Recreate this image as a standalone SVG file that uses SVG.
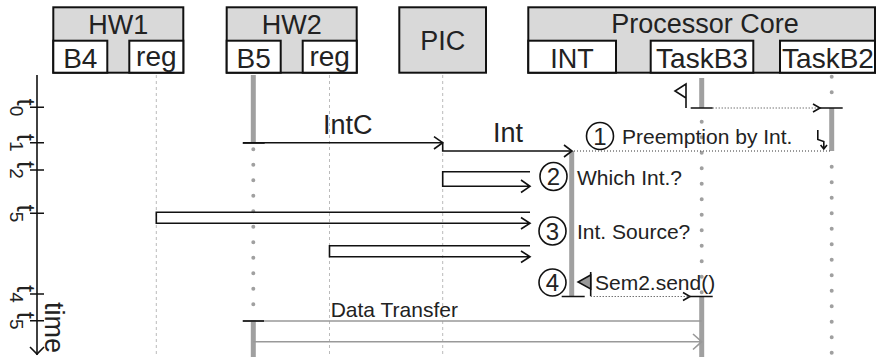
<svg xmlns="http://www.w3.org/2000/svg" width="883" height="357" viewBox="0 0 883 357">
<style>
text{font-family:"Liberation Sans",Arial,sans-serif;fill:#222}
.hd{font-size:27px;text-anchor:middle}
.sl{font-size:28px;text-anchor:middle}
.msg{font-size:21px}
.box{fill:#d9d9d9;stroke:#111;stroke-width:2}
.sub{fill:#fff;stroke:#111;stroke-width:2}
.dash{stroke:#bbb;stroke-width:1;stroke-dasharray:3 3;fill:none}
.bar{stroke:#a0a0a0;stroke-width:5;fill:none}
.dots{stroke:#a0a0a0;stroke-width:4;stroke-linecap:round;stroke-dasharray:0 15.5;fill:none}
.ln{stroke:#111;stroke-width:1.6;fill:none}
.dot{stroke:#333;stroke-width:1;stroke-dasharray:1 2;fill:none}
.gl{stroke:#999;stroke-width:1.6;fill:none}
.tick{font-size:26px;text-anchor:middle}
.num{font-size:24px;text-anchor:middle}
</style>
<g id="HW1">
<rect class="box" x="53.3" y="7.3" width="130" height="65.4"/>
<rect class="sub" x="53.3" y="40.7" width="54" height="32"/>
<rect class="sub" x="129.3" y="40.7" width="54" height="32"/>
<text class="hd" x="118.3" y="33.5">HW1</text>
<text class="sl" x="80.3" y="68">B4</text>
<text class="sl" x="156.3" y="66">reg</text>
</g>
<g id="HW2">
<rect class="box" x="226.7" y="7.3" width="130" height="65.4"/>
<rect class="sub" x="226.7" y="40.7" width="54" height="32"/>
<rect class="sub" x="302.7" y="40.7" width="54" height="32"/>
<text class="hd" x="291.7" y="33.5">HW2</text>
<text class="sl" x="253.7" y="68">B5</text>
<text class="sl" x="329.7" y="66">reg</text>
</g>
<g id="PIC">
<rect class="box" x="399.3" y="7.3" width="86.7" height="65.4"/>
<text class="hd" x="442.7" y="50">PIC</text>
</g>
<g id="ProcessorCore">
<rect class="box" x="528.3" y="7.3" width="346.7" height="65.4"/>
<rect class="sub" x="528.3" y="40.7" width="87.7" height="32"/>
<rect class="sub" x="650.7" y="40.7" width="102.6" height="32"/>
<rect class="sub" x="780" y="40.7" width="95" height="32"/>
<text class="hd" x="705" y="33" font-size="28">Processor Core</text>
<text class="hd" x="572" y="68">INT</text>
<text class="sl" x="702" y="68">TaskB3</text>
<text class="sl" x="828" y="68">TaskB2</text>
</g>
<g id="timeaxis">
<line class="ln" x1="37" y1="75" x2="37" y2="355"/>
<polyline class="ln" points="30,347 37,354 44,347"/>
<path class="ln" d="M30,107.3H44M30,142.7H44M30,170H44M30,213.3H44M30,294H44M30,320.7H44"/>
<text class="tick" transform="translate(17,107.3) rotate(90)">t<tspan font-size="19" dy="7">0</tspan></text>
<text class="tick" transform="translate(17,142.7) rotate(90)">t<tspan font-size="19" dy="7">1</tspan></text>
<text class="tick" transform="translate(17,170) rotate(90)">t<tspan font-size="19" dy="7">2</tspan></text>
<text class="tick" transform="translate(17,213.3) rotate(90)">t<tspan font-size="19" dy="7">5</tspan></text>
<text class="tick" transform="translate(17,294) rotate(90)">t<tspan font-size="19" dy="7">4</tspan></text>
<text class="tick" transform="translate(17,320.7) rotate(90)">t<tspan font-size="19" dy="7">5</tspan></text>
<text transform="translate(45,302) rotate(90)" font-size="27">time</text>
</g>
<g id="lifelines">
<line class="dash" x1="156.3" y1="75" x2="156.3" y2="357"/>
<line class="dash" x1="329.5" y1="75" x2="329.5" y2="357"/>
<line class="dash" x1="442.7" y1="75" x2="442.7" y2="357"/>
<line class="bar" x1="253.3" y1="75" x2="253.3" y2="143"/>
<line class="dots" x1="253.3" y1="149.3" x2="253.3" y2="306"/>
<line class="bar" x1="253.3" y1="320" x2="253.3" y2="357"/>
<line class="bar" x1="571.7" y1="151" x2="571.7" y2="296"/>
<line class="bar" x1="701.7" y1="78" x2="701.7" y2="108"/>
<line class="dots" x1="701.7" y1="121.7" x2="701.7" y2="293"/>
<line class="bar" x1="701.7" y1="297" x2="701.7" y2="357"/>
<line class="dots" x1="831.7" y1="76.7" x2="831.7" y2="93"/>
<line class="bar" x1="831.7" y1="108" x2="831.7" y2="151"/>
<line class="dots" x1="831.7" y1="166.7" x2="831.7" y2="355"/>
</g>
<g id="connectors">
<path class="ln" d="M690.7,108H712.7M820,108H842.7"/>
<line class="dot" x1="712.7" y1="108" x2="820" y2="108"/>
<polyline class="ln" stroke-width="1" points="813,104 820,108 813,112"/>
<path class="ln" d="M686,108V84L675,91L686,98"/>
<path class="ln" d="M242.7,143H264.7"/>
<line class="ln" x1="243" y1="142.7" x2="442.7" y2="142.7"/>
<polyline class="ln" points="434,136.7 442.7,142.7 434,149"/>
<path class="ln" d="M442.7,142.7V151H572"/>
<polyline class="ln" points="564,145 572,151 564,157"/>
<line class="dot" x1="574" y1="151" x2="831.7" y2="151"/>
<path class="ln" stroke-width="1.8" d="M817.8,130V139.5L823.8,141.5V149M820.6,145L823.8,149L827,145"/>
<path class="ln" d="M530,171.7H442.7V186.3H530M521,180L530,186.3L521,192.5"/>
<path class="ln" d="M530,212.3H156.3V223.3H530M521,217.5L530,223.3L521,229"/>
<path class="ln" d="M530,245.7H329.5V256.7H530M521,251L530,256.7L521,262.5"/>
<path class="ln" d="M561.7,296.5H584.7M690,296.5H712.7"/>
<line class="dot" x1="590.7" y1="296.5" x2="690" y2="296.5"/>
<polyline class="ln" stroke-width="1" points="683,292.5 690,296.5 683,300.5"/>
<path class="ln" d="M590.7,296V272"/>
<polygon points="590.7,275 578,282 590.7,289" fill="#999" stroke="#111" stroke-width="1.5"/>
<line class="gl" x1="243" y1="321" x2="701.7" y2="321"/>
<line class="gl" x1="253.3" y1="341.7" x2="701.7" y2="341.7"/>
<polyline class="gl" points="693,334 701.7,341.7 693,349.5"/>
<path class="ln" d="M242.7,321H264"/>
</g>
<g id="labels">
<text x="323" y="134" font-size="27">IntC</text>
<text x="493" y="142" font-size="27">Int</text>
<ellipse cx="600" cy="136" rx="13.5" ry="13.5" fill="none" stroke="#111" stroke-width="1.6"/>
<text class="num" x="600" y="144.5">1</text>
<text class="msg" x="622" y="144">Preemption by Int.</text>
<ellipse cx="553.5" cy="176.5" rx="13.5" ry="14" fill="none" stroke="#111" stroke-width="1.6"/>
<text class="num" x="553.5" y="185">2</text>
<text class="msg" x="577" y="185">Which Int.?</text>
<ellipse cx="552.5" cy="231" rx="13.5" ry="14" fill="none" stroke="#111" stroke-width="1.6"/>
<text class="num" x="552.5" y="239.5">3</text>
<text class="msg" x="577" y="239">Int. Source?</text>
<ellipse cx="552.5" cy="282.5" rx="13.5" ry="13.5" fill="none" stroke="#111" stroke-width="1.6"/>
<text class="num" x="552.5" y="291">4</text>
<text class="msg" x="595" y="290">Sem2.send()</text>
<text class="msg" x="330.7" y="317">Data Transfer</text>
</g>
</svg>
